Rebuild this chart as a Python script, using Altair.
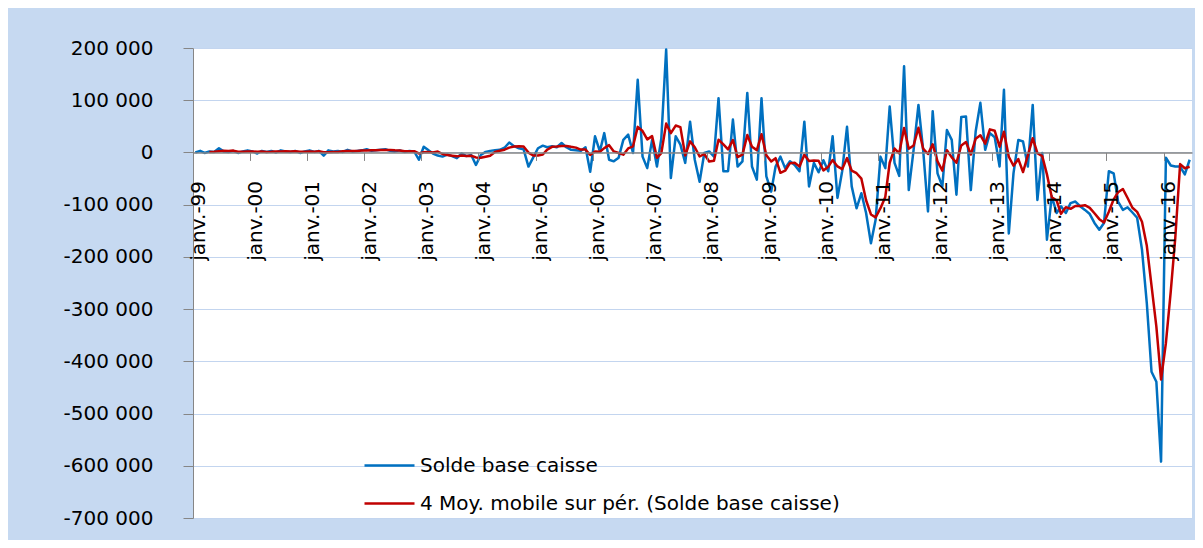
import altair as alt
import pandas as pd

# Monthly "Solde base caisse" values (Jan 1999 - Jun 2016)
y1999 = [0, 3000, -1000, 2000, 1000, 8000, 2000, 1000, 3000, -1000, 2000, 4000]
y2000 = [2000, -2000, 3000, 1000, 3000, 0, 4000, 2000, 1000, 3000, -1000, 2000]
y2001 = [4000, 1000, 3000, -6000, 4000, 2000, 3000, 1000, 5000, 2000, 3000, 4000]
y2002 = [6000, 3000, 4000, 5000, 6000, 3000, 2000, 4000, 1000, 3000, 2000, -14000]
y2003 = [11000, 4000, -2000, -6000, -8000, -4000, -7000, -11000, -2000, -7000, -5000, -24000]
y2004 = [-5000, 1000, 3000, 4000, 5000, 9000, 19000, 12000, 8000, 6000, -27000, -10000]
y2005 = [8000, 13000, 10000, 12000, 10000, 18000, 10000, 5000, 4000, 3000, 10000, -37000]
y2006 = [31000, 2000, 37000, -14000, -17000, -10000, 24000, 34000, -1000, 139000, -8000, -30000]
y2007 = [24000, -27000, 27000, 197000, -49000, 31000, 15000, -20000, 59000, -14000, -56000, -1000]
y2008 = [2000, -8000, 104000, -36000, -36000, 63000, -27000, -17000, 114000, -27000, -52000, 104000]
y2009 = [-46000, -75000, -27000, -8000, -30000, -17000, -24000, -36000, 59000, -65000, -20000, -38000]
y2010 = [-15000, -36000, 31000, -87000, -36000, 49000, -65000, -107000, -78000, -116000, -174000, -129000]
y2011 = [-8000, -30000, 88000, -20000, -45000, 165000, -72000, 5000, 91000, 5000, -113000, 79000]
y2012 = [-40000, -65000, 43000, 24000, -81000, 68000, 69000, -72000, 40000, 95000, 5000, 37000]
y2013 = [29000, -27000, 120000, -155000, -40000, 24000, 21000, -27000, 91000, -91000, -1000, -167000]
y2014 = [-84000, -116000, -103000, -116000, -97000, -94000, -103000, -110000, -118000, -135000, -148000, -135000]
y2015 = [-36000, -40000, -94000, -110000, -105000, -115000, -125000, -186000, -289000, -420000, -439000, -592000]
y2016 = [-10000, -25000, -27000, -27000, -42000, -14000]

years = [1999, 2000, 2001, 2002, 2003, 2004, 2005, 2006, 2007, 2008,
         2009, 2010, 2011, 2012, 2013, 2014, 2015, 2016]
series = [y1999, y2000, y2001, y2002, y2003, y2004, y2005, y2006, y2007, y2008,
          y2009, y2010, y2011, y2012, y2013, y2014, y2015, y2016]

S1 = "Solde base caisse"
S2 = "4 Moy. mobile sur pér. (Solde base caisse)"

rows = []
for yr, vals in zip(years, series):
    for m, v in enumerate(vals):
        rows.append({"date": f"{yr}-{m + 1:02d}-16T00:00:00", "solde": v})
df = pd.DataFrame(rows)

W = 999
H = 470
FONT = "DejaVu Sans"
GRAY = "#868686"

x_enc = alt.X(
    "date:T",
    title=None,
    scale=alt.Scale(domain=[alt.DateTime(year=1999, month=1, date=1),
                            alt.DateTime(year=2016, month=7, date=1)]),
    axis=alt.Axis(
        values=[alt.DateTime(year=y, month=1, date=1) for y in years],
        labelExpr="'janv.-' + timeFormat(datum.value, '%y')",
        labelAngle=270,
        labelFont=FONT,
        labelFontSize=20,
        labelColor="black",
        labelPadding=20,
        labelOffset=5,
        labelFlush=False,
        labelOverlap=False,
        tickSize=8,
        tickColor=GRAY,
        domainColor=GRAY,
        domainWidth=1.5,
        grid=False,
        offset=-(H * 7 / 9),
        zindex=1,
    ),
)

y_scale = alt.Scale(domain=[-700000, 200000], nice=False, zero=False)
y_axis = alt.Axis(
    values=list(range(-700000, 200001, 100000)),
    labelExpr="replace(replace(format(datum.value, ','), ',', ' '), '\\u2212', '-')",
    labelFont=FONT,
    labelFontSize=20,
    labelColor="black",
    labelPadding=30,
    tickSize=10,
    tickColor=GRAY,
    domainColor=GRAY,
    grid=True,
    gridColor="#C3D5EF",
    gridWidth=1,
)

color_scale = alt.Scale(domain=[S1, S2], range=["#0070C0", "#C00000"])
legend = alt.Legend(
    orient="none",
    legendX=170,
    legendY=391,
    title=None,
    symbolType="stroke",
    symbolSize=2500,
    symbolStrokeWidth=2.5,
    labelFont=FONT,
    labelFontSize=20,
    labelColor="black",
    labelOffset=4,
    rowPadding=1,
    padding=0,
    labelLimit=800,
)

base = alt.Chart(df)

blue = base.transform_calculate(serie=f"'{S1}'").mark_line(
    strokeWidth=2.5, strokeJoin="round"
).encode(
    x=x_enc,
    y=alt.Y("solde:Q", title=None, scale=y_scale, axis=y_axis),
    color=alt.Color("serie:N", scale=color_scale, legend=legend),
)

red = base.transform_window(
    ma="mean(solde)", n="count()", frame=[-3, 0], sort=[alt.SortField("date")]
).transform_filter("datum.n >= 4").transform_calculate(serie=f"'{S2}'").mark_line(
    strokeWidth=2.5, strokeJoin="round"
).encode(
    x=x_enc,
    y=alt.Y("ma:Q", title=None, scale=y_scale, axis=y_axis),
    color=alt.Color("serie:N", scale=color_scale, legend=legend),
)

chart = alt.layer(blue, red).properties(
    width=W,
    height=H,
    background="#C6D9F1",
    autosize=alt.AutoSizeParams(type="none"),
    padding={"left": 185, "top": 40, "right": 3, "bottom": 22},
).configure_view(fill="white", strokeWidth=0)

chart.save("out.html", embed_options={"renderer": "svg", "actions": False})
